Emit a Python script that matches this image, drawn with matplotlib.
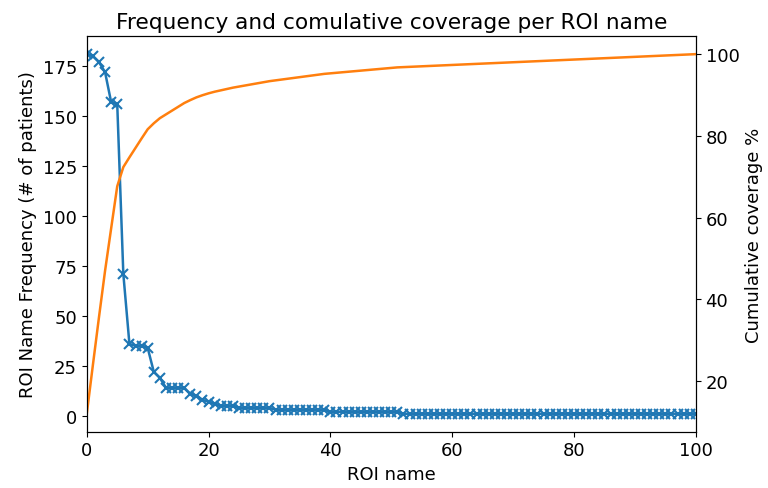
import numpy as np
import matplotlib
matplotlib.use('Agg')
import matplotlib.pyplot as plt

# ROI name index vs number of patients
roi_index = list(range(101))
freq = ([181, 180, 177, 172, 157, 156, 71, 36, 35, 35, 34, 22, 19,
         14, 14, 14, 14, 11, 10, 8, 7, 6]
        + [5] * 3 + [4] * 6 + [3] * 9 + [2] * 12 + [1] * 49)

freq = np.array(freq)
coverage = np.cumsum(freq) / freq.sum() * 100

plt.rcParams['font.size'] = 13

fig, ax = plt.subplots(figsize=(7.68, 4.89), dpi=100)
fig.subplots_adjust(left=0.113, right=0.906, top=0.924, bottom=0.115)

ax.plot(roi_index, freq, 'x-', color='C0', markersize=7.5,
        markeredgewidth=1.5, linewidth=1.8)
ax.set_xlim(0, 100)
ax.set_xlabel('ROI name')
ax.set_ylabel('ROI Name Frequency (# of patients)')
ax.set_title('Frequency and comulative coverage per ROI name', fontsize=15.6)

ax2 = ax.twinx()
ax2.plot(roi_index, coverage, color='C1', linewidth=1.8)
ax2.set_ylabel('Cumulative coverage %')
ax2.set_xlim(0, 100)

fig.savefig('out.png', dpi=100)
